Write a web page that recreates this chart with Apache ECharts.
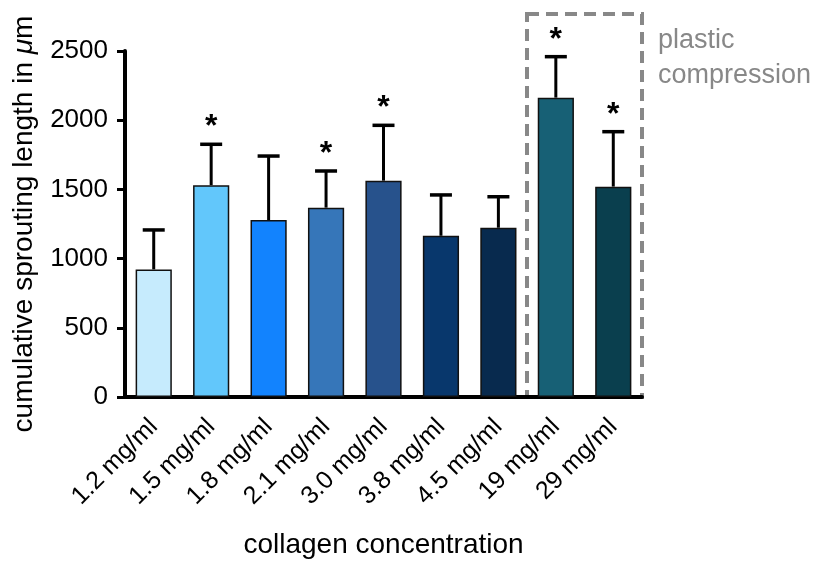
<!DOCTYPE html>
<html><head><meta charset="utf-8">
<script src="https://cdn.jsdelivr.net/npm/echarts@6/dist/echarts.min.js"></script>
<style>html,body{margin:0;padding:0;background:#fff}#c{width:819px;height:561px}</style>
</head><body><div id="c"></div>
<script>
const categories = ['1.2 mg/ml','1.5 mg/ml','1.8 mg/ml','2.1 mg/ml','3.0 mg/ml','3.8 mg/ml','4.5 mg/ml','19 mg/ml','29 mg/ml'];
const means = [922, 1530, 1279, 1368, 1563, 1165, 1223, 2163, 1520];
const errTops = [1207, 1826, 1741, 1633, 1963, 1460, 1447, 2459, 1917];
const significant = [0, 1, 0, 1, 1, 0, 0, 1, 1];
const barColors = ['#c6ebfd','#62c7fb','#1283fe','#3676b9','#27528c','#08376c','#082a4e','#176075','#0a3f4e'];
const yTicks = [0, 500, 1000, 1500, 2000, 2500];

const FONT = 'Liberation Sans, Arial, Helvetica, sans-serif';
const chart = echarts.init(document.getElementById('c'));
chart.setOption({
  animation: false,
  grid: {left: 125, right: 177, top: 51, bottom: 164, containLabel: false, outerBoundsMode: 'none'},
  xAxis: {
    type: 'category', data: categories,
    axisLine: {lineStyle: {color: '#000', width: 4}},
    axisTick: {alignWithLabel: true, length: 8, lineStyle: {color: '#000', width: 3}},
    axisLabel: {rotate: 45, fontSize: 25, color: '#000', fontFamily: FONT, margin: 26, interval: 0},
    name: 'collagen concentration', nameLocation: 'middle', nameGap: 134,
    nameTextStyle: {fontSize: 28, color: '#000', fontFamily: FONT}
  },
  yAxis: {
    type: 'value', min: yTicks[0], max: yTicks[yTicks.length-1], interval: 500,
    splitLine: {show: false},
    axisLine: {show: true, lineStyle: {color: '#000', width: 4}},
    axisTick: {show: true, length: 8, lineStyle: {color: '#000', width: 3}},
    axisLabel: {fontSize: 26, color: '#000', fontFamily: FONT, margin: 17, formatter: v => String(v)},
    name: '{n|cumulative sprouting length in }{i|μ}{n|m}', nameLocation: 'middle', nameGap: 87,
    nameTextStyle: {rich: {n: {fontSize: 28, color: '#000', fontFamily: FONT}, i: {fontSize: 28, color: '#000', fontFamily: FONT, fontStyle: 'italic'}}}
  },
  series: [
    {
      type: 'bar', barWidth: '63%',
      data: means.map((v, i) => ({value: v, itemStyle: {color: barColors[i]}})),
      itemStyle: {borderColor: '#111', borderWidth: 1.5},
      z: 2
    },
    {
      type: 'custom', z: 1,
      data: means.map((v, i) => [i, v, errTops[i], significant[i]]),
      renderItem: function (params, api) {
        const base = api.coord([api.value(0), api.value(1)]);
        const top = api.coord([api.value(0), api.value(2)]);
        const half = 11;
        const children = [
          {type: 'line', shape: {x1: base[0], y1: base[1], x2: top[0], y2: top[1]}, style: {stroke: '#000', lineWidth: 3}},
          {type: 'line', shape: {x1: top[0]-half, y1: top[1], x2: top[0]+half, y2: top[1]}, style: {stroke: '#000', lineWidth: 3.5}}
        ];
        if (api.value(3)) {
          children.push({type: 'text', x: top[0], y: top[1] - 17, style: {text: '*', fontSize: 32, fontWeight: 'bold', fill: '#000', align: 'center', verticalAlign: 'middle', fontFamily: FONT}});
        }
        return {type: 'group', children: children};
      }
    }
  ],
  graphic: [
    {type: 'rect', shape: {x: 527, y: 14, width: 115, height: 383}, style: {fill: 'none', stroke: '#888', lineWidth: 4, lineDash: [12, 7]}, z: 0},
    {type: 'text', left: 658, top: 23, style: {text: 'plastic\ncompression', fontSize: 27, lineHeight: 35, fill: '#888', fontFamily: FONT}}
  ]
});
</script></body></html>
